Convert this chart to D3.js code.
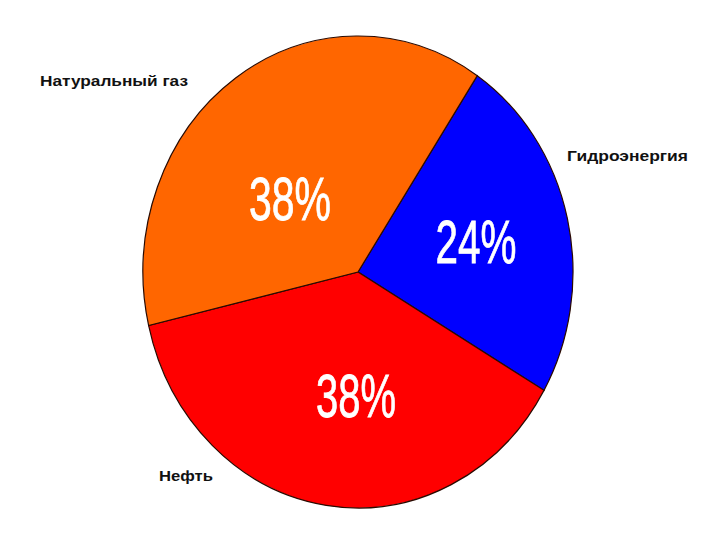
<!DOCTYPE html>
<html>
    <head>
        <meta charset="utf-8" />
        <title>Pie</title>
        <script src="https://d3js.org/d3.v7.min.js"></script>
        <style>
            body { margin: 0; background: #fff; }
        </style>
    </head>
    <body>
        <div id="chart"></div>

    <script>

        // data
        const categories = ["Гидроэнергия", "Нефть", "Натуральный газ"]
        const values = [24, 38, 38]
        const pctLabels = ["24%", "38%", "38%"]

        const colors = ["#0000ff", "#ff0000", "#ff6600"]

        const width = 720, height = 540
        const cx = 358, cy = 272, rx = 215, ry = 236

        // where the category names sit, relative to the pie centre
        const nameAnchors = [[209, -111, 121], [-199, 209, 54], [-318, -186, 148]]
        // where the percent labels sit (centre x, baseline y), relative to the pie centre
        const pctAnchors = [[118, -9, 81], [-2, 145, 80], [-68, -52, 82]]

        const svg = d3.select("#chart")
                        .append("svg")
                            .attr("width", width)
                            .attr("height", height)

        svg.append("rect")
            .attr("width", width)
            .attr("height", height)
            .attr("fill", "#fff")

        const data = categories.map((c, i) => ({name: c, value: values[i], i: i}))

        const pie = d3.pie()
                        .sort(null)
                        .value(d => d.value)
                        .startAngle(33.7 * Math.PI / 180)
                        .endAngle(33.7 * Math.PI / 180 + 2 * Math.PI)

        const arc = d3.arc()
                        .innerRadius(0)
                        .outerRadius(rx)

        const g = svg.append("g")
                        .attr("transform", `translate(${cx},${cy}) scale(1,${ry / rx})`)

        g.selectAll("path")
            .data(pie(data))
            .join("path")
                .attr("d", arc)
                .attr("fill", d => colors[d.data.i])
                .attr("stroke", "#2a0a00")
                .attr("stroke-width", 1.2)
                .attr("vector-effect", "non-scaling-stroke")

        const labels = svg.append("g")
                            .attr("transform", `translate(${cx},${cy})`)

        labels.selectAll("text.pct")
            .data(data)
            .join("text")
                .attr("class", "pct")
                .attr("x", d => pctAnchors[d.i][0])
                .attr("y", d => pctAnchors[d.i][1])
                .attr("textLength", d => pctAnchors[d.i][2])
                .attr("lengthAdjust", "spacingAndGlyphs")
                .attr("text-anchor", "middle")
                .style("font-family", "'Liberation Sans Narrow', 'Liberation Sans', Arial, sans-serif")
                .style("font-size", "62px")
                .style("fill", "#fff")
                .style("stroke", "#fff")
                .style("stroke-width", 0.8)
                .text(d => pctLabels[d.i])

        labels.selectAll("text.name")
            .data(data)
            .join("text")
                .attr("class", "name")
                .attr("x", d => nameAnchors[d.i][0])
                .attr("y", d => nameAnchors[d.i][1])
                .attr("textLength", d => nameAnchors[d.i][2])
                .attr("lengthAdjust", "spacingAndGlyphs")
                .style("font-family", "'Liberation Sans Narrow', 'Liberation Sans', Arial, sans-serif")
                .style("font-weight", "bold")
                .style("font-size", "15px")
                .style("fill", "#111")
                .text(d => d.name)

    </script>
    </body>
</html>
